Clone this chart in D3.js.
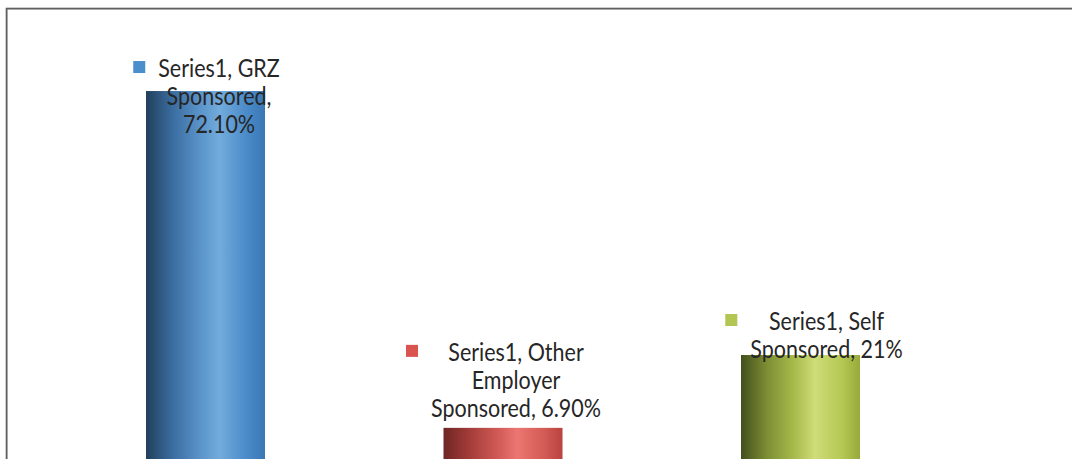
<!DOCTYPE html>
<html>
<head>
<meta charset="utf-8">
<script src="https://cdn.jsdelivr.net/npm/d3@7"></script>
<style>
  html, body { margin: 0; padding: 0; background: #ffffff; }
  svg { display: block; }
</style>
</head>
<body>
<svg id="chart" width="1072" height="459"></svg>
<script>
// Funding source of students, share of respondents (Series1)
const categories = ["GRZ Sponsored", "Other Employer Sponsored", "Self Sponsored"];
const values = [72.1, 6.9, 21];
const valueLabels = ["72.10%", "6.90%", "21%"];
const seriesName = "Series1";
// Data label text, already wrapped into lines
const labelLines = [
  ["Series1, GRZ", "Sponsored,", "72.10%"],
  ["Series1, Other", "Employer", "Sponsored, 6.90%"],
  ["Series1, Self", "Sponsored, 21%"]
];

// Colour ramps for each bar (dark edge -> highlight -> right edge)
const ramps = [
  ["#223f5b", "#3a6c9f", "#5a93c9", "#72abdc", "#4a8ac8", "#3a78b4"],
  ["#6e2624", "#a43c39", "#d05955", "#ec7671", "#d35a55", "#b9433f"],
  ["#434f1c", "#7d8e34", "#a8bb4c", "#cfdc78", "#b5c853", "#97aa3b"]
];
const markerColors = ["#4a8fcc", "#d9534f", "#b3c552"];

// Label placement relative to bar centre / bar top
const labelDx = [13.5, 13, 26];
const labelDy = [-14, -67, -25];

const svg = d3.select("#chart");
const W = 1072, H = 459;

// Chart frame
svg.append("rect")
  .attr("x", 7.5).attr("y", 9.5).attr("width", W + 20).attr("height", H + 20)
  .attr("fill", "none").attr("stroke", "#c8c8c8").attr("stroke-width", 1);
svg.append("rect")
  .attr("x", 6.5).attr("y", 8.5).attr("width", W + 20).attr("height", H + 20)
  .attr("fill", "none").attr("stroke", "#5e5e5e").attr("stroke-width", 1.6);

const x = d3.scaleBand()
  .domain(categories)
  .range([56.75, 949.25])
  .paddingInner(0.6)
  .paddingOuter(0.3);

const y = d3.scaleLinear()
  .domain([0, 80])
  .range([463.5, 463.5 - 80 * 5.166]);

const defs = svg.append("defs");
ramps.forEach((r, i) => {
  const g = defs.append("linearGradient")
    .attr("id", "grad" + i)
    .attr("x1", "0%").attr("x2", "100%").attr("y1", "0%").attr("y2", "0%");
  const stops = [0, 0.22, 0.45, 0.62, 0.85, 1];
  r.forEach((c, j) => g.append("stop").attr("offset", stops[j]).attr("stop-color", c));
});

const data = categories.map((c, i) => ({ c, v: values[i], i }));

svg.append("g").selectAll("rect")
  .data(data)
  .join("rect")
  .attr("x", d => x(d.c))
  .attr("y", d => y(d.v))
  .attr("width", x.bandwidth())
  .attr("height", d => y(0) - y(d.v))
  .attr("fill", d => `url(#grad${d.i})`);

// Data labels with legend key
const fontSize = 21.5;
const stretch = 1.12;
const lineGap = 28;

const labels = svg.append("g").selectAll("g")
  .data(data)
  .join("g");

labels.each(function(d) {
  const g = d3.select(this);
  const cx = x(d.c) + x.bandwidth() / 2 + labelDx[d.i];
  const top = y(d.v) + labelDy[d.i];
  let maxW = 0;
  labelLines[d.i].forEach((line, k) => {
    const t = g.append("text")
      .attr("transform", `translate(${cx},${top + k * lineGap}) scale(1,${stretch})`)
      .attr("text-anchor", "middle")
      .attr("font-family", "Lato, 'Open Sans', sans-serif")
      .attr("font-size", fontSize)
      .attr("fill", "#262626")
      .text(line);
    maxW = Math.max(maxW, t.node().getComputedTextLength());
  });
  g.insert("rect", "text")
    .attr("x", cx - maxW / 2 - 25)
    .attr("y", top - 16)
    .attr("width", 12)
    .attr("height", 12)
    .attr("fill", markerColors[d.i]);
});
</script>
</body>
</html>
